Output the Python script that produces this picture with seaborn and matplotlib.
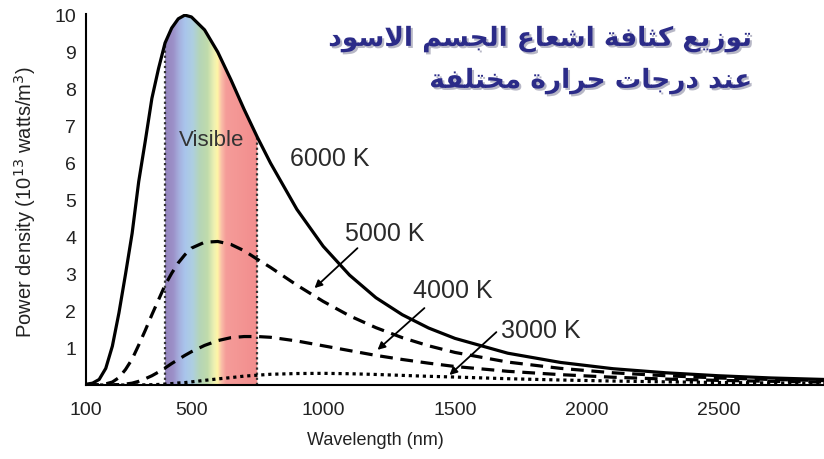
import numpy as np
import pandas as pd
import matplotlib
matplotlib.use("Agg")
import matplotlib.pyplot as plt
import seaborn as sns
from matplotlib.colors import LinearSegmentedColormap
from matplotlib import patheffects as pe

# ---------------- data ----------------
wavelength = [100, 125, 150, 175, 200, 225, 250, 275, 300, 325, 350, 375, 400, 425, 450,
              475, 500, 550, 600, 650, 700, 750, 800, 900, 1000, 1100, 1200, 1300, 1400,
              1500, 1700, 1900, 2100, 2300, 2500, 2700, 2900]
p6000 = [0.02, 0.05, 0.15, 0.45, 1.05, 1.95, 3.0, 4.1, 5.5, 6.6, 7.75, 8.55, 9.25, 9.65, 9.9,
         10.0, 9.95, 9.6, 9.0, 8.25, 7.45, 6.7, 6.0, 4.75, 3.75, 2.97, 2.36, 1.9, 1.54,
         1.26, 0.86, 0.61, 0.44, 0.33, 0.25, 0.19, 0.15]
p5000 = [0.0, 0.0, 0.01, 0.03, 0.08, 0.2, 0.42, 0.7, 1.08, 1.48, 1.9, 2.3, 2.7, 3.02, 3.3,
         3.52, 3.7, 3.86, 3.88, 3.8, 3.63, 3.4, 3.18, 2.7, 2.26, 1.87, 1.55, 1.28, 1.06,
         0.88, 0.62, 0.45, 0.33, 0.25, 0.19, 0.15, 0.12]
p4000 = [0.0, 0.0, 0.0, 0.001, 0.005, 0.01, 0.025, 0.05, 0.1, 0.17, 0.25, 0.35, 0.46, 0.58, 0.69,
         0.8, 0.9, 1.07, 1.2, 1.28, 1.31, 1.31, 1.29, 1.19, 1.06, 0.93, 0.8, 0.69, 0.59,
         0.5, 0.37, 0.28, 0.21, 0.16, 0.125, 0.1, 0.08]
p3000 = [0.0, 0.0, 0.0, 0.0, 0.0, 0.0, 0.0, 0.0, 0.002, 0.004, 0.008, 0.015, 0.025, 0.038, 0.055,
         0.065, 0.085, 0.125, 0.165, 0.2, 0.24, 0.265, 0.29, 0.31, 0.315, 0.305, 0.285, 0.26, 0.235,
         0.215, 0.17, 0.135, 0.107, 0.085, 0.068, 0.055, 0.045]
temps = ["6000 K", "5000 K", "4000 K", "3000 K"]
visible_range = [400, 750]
x_ticks = [100, 500, 1000, 1500, 2000, 2500]
y_ticks = [1, 2, 3, 4, 5, 6, 7, 8, 9, 10]
title_lines = ["توزيع كثافة اشعاع الجسم الاسود", "عند درجات حرارة مختلفة"]
xlabel = "Wavelength (nm)"
ylabel = "Power density (10$^{13}$ watts/m$^3$)"

# ---------------- Arabic shaping (matplotlib has no text shaping) ----------------
FORMS = {
    'ا': ('\uFE8D', '\uFE8E', None, None),
    'ت': ('\uFE95', '\uFE96', '\uFE97', '\uFE98'),
    'ث': ('\uFE99', '\uFE9A', '\uFE9B', '\uFE9C'),
    'ج': ('\uFE9D', '\uFE9E', '\uFE9F', '\uFEA0'),
    'ح': ('\uFEA1', '\uFEA2', '\uFEA3', '\uFEA4'),
    'خ': ('\uFEA5', '\uFEA6', '\uFEA7', '\uFEA8'),
    'د': ('\uFEA9', '\uFEAA', None, None),
    'ر': ('\uFEAD', '\uFEAE', None, None),
    'ز': ('\uFEAF', '\uFEB0', None, None),
    'س': ('\uFEB1', '\uFEB2', '\uFEB3', '\uFEB4'),
    'ش': ('\uFEB5', '\uFEB6', '\uFEB7', '\uFEB8'),
    'ع': ('\uFEC9', '\uFECA', '\uFECB', '\uFECC'),
    'ف': ('\uFED1', '\uFED2', '\uFED3', '\uFED4'),
    'ك': ('\uFED9', '\uFEDA', '\uFEDB', '\uFEDC'),
    'ل': ('\uFEDD', '\uFEDE', '\uFEDF', '\uFEE0'),
    'م': ('\uFEE1', '\uFEE2', '\uFEE3', '\uFEE4'),
    'ن': ('\uFEE5', '\uFEE6', '\uFEE7', '\uFEE8'),
    'ة': ('\uFE93', '\uFE94', None, None),
    'و': ('\uFEED', '\uFEEE', None, None),
    'ي': ('\uFEF1', '\uFEF2', '\uFEF3', '\uFEF4'),
}


def shape_arabic(s):
    def dual(ch):
        return ch in FORMS and FORMS[ch][2] is not None
    out, i, n, prev_join = [], 0, len(s), False
    while i < n:
        c = s[i]
        if c not in FORMS:
            out.append(c)
            prev_join = False
            i += 1
            continue
        if c == 'ل' and i + 1 < n and s[i + 1] == 'ا':
            out.append('\uFEFC' if prev_join else '\uFEFB')
            prev_join = False
            i += 2
            continue
        nxt = s[i + 1] if i + 1 < n else ''
        next_join = dual(c) and nxt in FORMS
        iso, fin, ini, med = FORMS[c]
        if prev_join and next_join:
            g = med
        elif prev_join:
            g = fin
        elif next_join:
            g = ini
        else:
            g = iso
        out.append(g)
        prev_join = dual(c)
        i += 1
    return ''.join(reversed(out))


# ---------------- plotting ----------------
sns.set_theme(style="white")
plt.rcParams['font.family'] = ['Liberation Sans', 'DejaVu Sans']

df = pd.DataFrame({
    "wavelength": wavelength * 4,
    "power": p6000 + p5000 + p4000 + p3000,
    "temp": sum([[t] * len(wavelength) for t in temps], []),
})

fig = plt.figure(figsize=(8.24, 4.59), dpi=100)
ax = fig.add_axes([86 / 824, 1 - 385 / 459, 1 - 86 / 824, (385 - 14) / 459])

# visible band (gradient clipped under the 6000 K curve)
wl = np.array(wavelength, dtype=float)
v6 = np.array(p6000)
mask = (wl >= visible_range[0]) & (wl <= visible_range[1])
poly = ax.fill_between(wl[mask], 0, v6[mask], color='none', lw=0)
stops = [(400, '#9486be'), (430, '#9c90c8'), (455, '#a6b2e0'), (475, '#a9c5ec'),
         (505, '#aecfe0'), (530, '#b5d5b8'), (560, '#c0dbab'), (585, '#eef1b2'),
         (598, '#fff6a6'), (612, '#fac0a8'), (630, '#f59c99'), (750, '#f28d8d')]
lo, hi = visible_range
cmap = LinearSegmentedColormap.from_list(
    "vis", [((w - lo) / (hi - lo), c) for w, c in stops])
grad = np.linspace(0, 1, 600).reshape(1, -1)
img = ax.imshow(grad, extent=[lo, hi, 0, 10.2], aspect='auto', cmap=cmap,
                origin='lower', zorder=1, interpolation='bilinear')
img.set_clip_path(poly.get_paths()[0], transform=ax.transData)

vis_tops = [p6000[wavelength.index(visible_range[0])], p6000[wavelength.index(visible_range[1])]]
ax.vlines(visible_range, 0, vis_tops, colors='#333333', linestyles=(0, (1, 1.3)),
          lw=1.6, zorder=2)

sns.lineplot(data=df, x="wavelength", y="power", hue="temp", style="temp",
             palette={t: "black" for t in temps},
             dashes={"6000 K": "", "5000 K": (4, 2.4), "4000 K": (4, 2.4), "3000 K": (1, 1.2)},
             lw=2.3, legend=False, sort=False, ax=ax, zorder=3)

ax.set_xlim(100, 2900)
ax.set_ylim(0, 10.03)
ax.set_xticks(x_ticks)
ax.set_yticks(y_ticks)
ax.tick_params(axis='both', direction='inout', length=6, width=1.3, colors='black',
               labelsize=14, labelcolor='#222222')
ax.tick_params(axis='x', pad=9)
ax.tick_params(axis='y', pad=4)
for s in ['top', 'right']:
    ax.spines[s].set_visible(False)
for s in ['left', 'bottom']:
    ax.spines[s].set_color('black')
    ax.spines[s].set_linewidth(1.5)
ax.set_xlabel(xlabel, fontsize=13, color='#222222')
ax.xaxis.set_label_coords((375 - 86) / 738, -(432 - 385) / 371)
ax.set_ylabel(ylabel, fontsize=14.5, color='#222222')
ax.yaxis.set_label_coords(-(86 - 38) / 738, (385 - 202) / 371)

txt = dict(color='#2a2a2a', va='center', ha='left')
ax.text(577, 6.6, "Visible", fontsize=16, color='#333333', ha='center', va='center', zorder=4)
ax.text(873, 6.1, temps[0], fontsize=18, **txt)
ax.text(1081, 4.08, temps[1], fontsize=18, **txt)
ax.text(1339, 2.54, temps[2], fontsize=18, **txt)
ax.text(1676, 1.46, temps[3], fontsize=18, **txt)

arrow = dict(arrowstyle='-|>', color='black', lw=1.3, mutation_scale=11, shrinkA=0, shrinkB=0)
ax.annotate('', xy=(967, 2.62), xytext=(1130, 3.70), arrowprops=arrow)
ax.annotate('', xy=(1206, 0.95), xytext=(1384, 2.08), arrowprops=arrow)
ax.annotate('', xy=(1479, 0.27), xytext=(1657, 1.43), arrowprops=arrow)

shadow = [pe.SimplePatchShadow(offset=(1.5, -1.5), shadow_rgbFace='#8888a0', alpha=0.6), pe.Normal()]
fig.text(752 / 824, 1 - 39 / 459, shape_arabic(title_lines[0]), fontsize=19, fontweight='bold',
         family=['DejaVu Sans'], color='#2b2b88', ha='right', va='center', path_effects=shadow)
fig.text(752 / 824, 1 - 81 / 459, shape_arabic(title_lines[1]), fontsize=19, fontweight='bold',
         family=['DejaVu Sans'], color='#2b2b88', ha='right', va='center', path_effects=shadow)

fig.savefig("out.png", dpi=100)
